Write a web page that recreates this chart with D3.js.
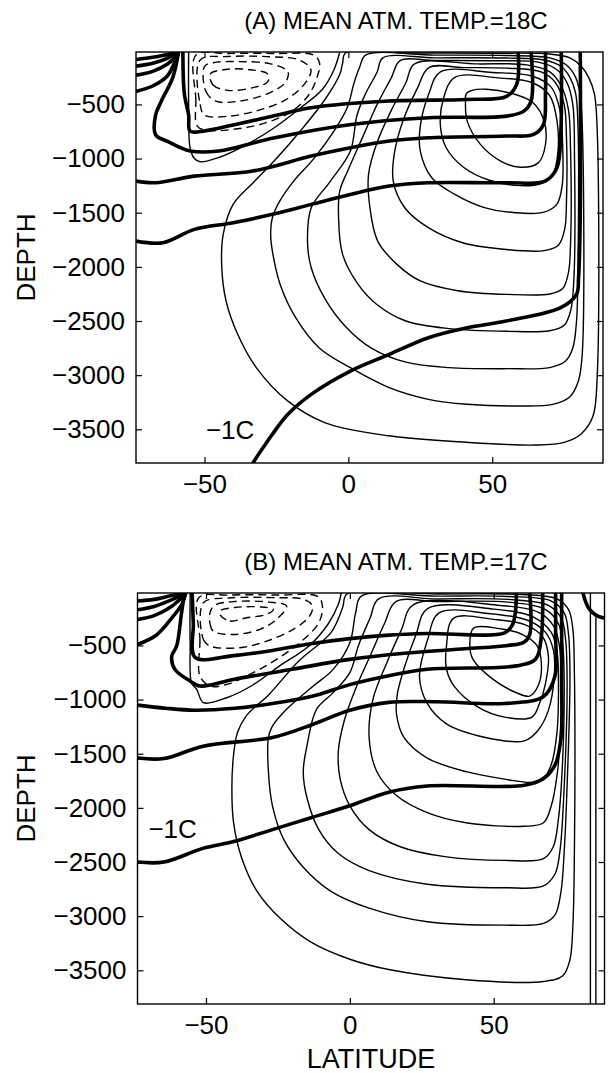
<!DOCTYPE html>
<html><head><meta charset="utf-8">
<script src="https://cdn.jsdelivr.net/npm/d3@7"></script>
<style>
body{margin:0;background:#fff;}
text{font-family:"Liberation Sans",Arial,Helvetica,sans-serif;fill:#000;}
</style></head>
<body><svg id="c" width="610" height="1073"></svg>
<script>
// ---------- axes ----------
const latDomain = [-73.8, 88.5];
const depthDomain = [-3811, -16];
const latTicks = [-50, 0, 50];
const depthTicks = [-3500, -3000, -2500, -2000, -1500, -1000, -500];
const titles = ["(A) MEAN ATM. TEMP.=18C", "(B) MEAN ATM. TEMP.=17C"];
const xLabel = "LATITUDE";
const yLabel = "DEPTH";

// ---------- panel A : streamfunction (thin, positive cell), [lat, depth] ----------
const psiA = [
 [[-1,-25],[-2,-120],[-3,-224],[-8,-450],[-16.7,-746],[-25,-1000],[-33,-1220],[-40,-1420],[-43.5,-1700],[-44,-2000],[-42.5,-2315],[-38.5,-2620],[-32,-2930],[-21,-3240],[-8,-3440],[14,-3560],[41,-3620],[65,-3645],[75,-3620],[81,-3540],[85,-3380],[86.5,-3000],[86.5,-750],[85.5,-400],[83.5,-250],[81,-150],[77,-70],[70,-35],[50,-27],[20,-25]],
 [[6,-45],[4,-150],[2,-300],[-0.4,-531],[-5,-746],[-12,-1000],[-19,-1208],[-24,-1400],[-26.4,-1546],[-27,-1700],[-26.4,-1854],[-23.7,-2162],[-18.3,-2469],[-10.2,-2746],[0.7,-2931],[14.2,-3115],[27.8,-3223],[41.3,-3269],[60,-3285],[71,-3270],[77,-3200],[80,-3050],[81.3,-2800],[81.3,-700],[80.5,-400],[79,-250],[76,-140],[70,-70],[55,-48],[30,-45]],
 [[12,-70],[10,-200],[6,-400],[3,-600],[0.7,-931],[-6.2,-1208],[-12.9,-1454],[-14.2,-1762],[-12.9,-2008],[-8,-2300],[-1,-2550],[8,-2750],[20,-2880],[35,-2930],[55,-2940],[70,-2930],[75.5,-2870],[78,-2750],[79.3,-2500],[79.8,-2000],[79.8,-700],[79,-400],[77,-250],[74,-150],[68,-90],[55,-72],[30,-70]],
 [[18,-95],[15,-250],[10,-500],[5,-800],[0,-1100],[-3,-1300],[-3.4,-1546],[-2,-1885],[3.4,-2162],[10,-2350],[20,-2500],[35,-2570],[55,-2595],[70,-2590],[75,-2540],[77.3,-2400],[78.4,-2100],[78.6,-1000],[78,-500],[76,-300],[72.5,-180],[66,-110],[50,-97],[30,-95]],
 [[23,-125],[20,-300],[15,-550],[10,-850],[7,-1150],[7.5,-1454],[10.2,-1762],[16.9,-1977],[25,-2130],[38,-2220],[55,-2254],[70,-2250],[74.5,-2200],[76.5,-2050],[77.2,-1800],[77.2,-900],[76.5,-550],[74,-330],[70,-200],[62,-135],[45,-126]],
 [[28,-160],[24,-350],[19,-650],[16,-950],[15.6,-1208],[19.6,-1454],[27.8,-1638],[40,-1780],[55,-1840],[68,-1850],[73,-1800],[75.2,-1650],[75.8,-1400],[75.8,-800],[75,-500],[72,-300],[67,-200],[55,-165],[40,-160]],
 [[32,-200],[28,-400],[25,-700],[25,-931],[29,-1177],[37,-1331],[47,-1450],[58,-1500],[68,-1495],[72.5,-1420],[74.3,-1250],[74.5,-900],[73.5,-550],[70.5,-340],[64,-240],[50,-205]],
 [[37,-250],[33,-450],[32,-700],[34,-900],[40,-1080],[49,-1200],[60,-1250],[67,-1230],[71,-1150],[72.8,-950],[72.5,-650],[70,-420],[64,-300],[52,-255]],
 [[41,-400],[40.7,-485],[41.3,-654],[45.9,-869],[52.9,-1023],[59.8,-1080],[66,-1040],[68.5,-870],[68,-650],[64,-480],[57,-400],[48,-360],[43,-370]]
];
const zeroA = [[-55.5,-16],[-55.5,-500],[-55,-900],[-53.5,-1000],[-51.5,-1030],[-45,-990],[-36,-880],[-26,-720],[-17,-540],[-9,-360],[-5,-180],[-3,-16]];
// negative cell (dashed, closed)
const negA = [
 [[-48,-220],[-47,-320],[-42,-370],[-34,-350],[-28,-290],[-28,-220],[-34,-180],[-42,-175]],
 [[-50,-150],[-49.5,-380],[-46,-470],[-38,-470],[-28,-400],[-22,-300],[-21,-200],[-27,-125],[-38,-105],[-47,-115]],
 [[-51.5,-90],[-51.5,-500],[-50,-600],[-42,-610],[-32,-560],[-22,-460],[-15.5,-320],[-13,-180],[-17,-90],[-27,-60],[-42,-58]],
 [[-53,-45],[-53,-450],[-52.5,-700],[-49,-740],[-40,-730],[-30,-680],[-20,-570],[-14,-420],[-11,-260],[-10,-120],[-12,-45],[-25,-30],[-42,-30]]
];
// temperature (thick)
const tempA = [
 [[-73.8,-85],[-68,-65],[-62,-35],[-59.5,-16]],
 [[-73.8,-147],[-68,-120],[-63,-75],[-59.5,-16]],
 [[-73.8,-230],[-68,-195],[-63,-130],[-60,-60],[-59,-16]],
 [[-73.8,-380],[-68,-330],[-63,-240],[-60.5,-120],[-59,-16]],
 [[-57.5,-16],[-57,-400],[-55.5,-600],[-55,-746],[-50,-745],[-40,-690],[-25,-600],[-13,-531],[14,-469],[41,-454],[55,-425],[58.5,-315],[59,-16]],
 [[-59,-16],[-61,-250],[-65,-470],[-67,-600],[-67,-780],[-63,-840],[-55,-930],[-45,-930],[-26,-810],[1,-685],[28,-623],[55,-608],[61,-562],[63.5,-470],[63.5,-16]],
 [[-73.8,-1208],[-67,-1223],[-53.5,-1162],[-33.2,-1115],[-12.9,-977],[0.7,-900],[14.2,-838],[27.8,-808],[54.9,-792],[64.4,-777],[67.8,-685],[68.5,-400],[68.5,-16]],
 [[-73.8,-1762],[-64.4,-1777],[-53.5,-1654],[-40,-1592],[-26.4,-1515],[-12.9,-1423],[0.7,-1331],[14.2,-1254],[27.8,-1223],[54.9,-1223],[68.4,-1208],[72.5,-1085],[73.8,-777],[74,-16]],
 [[80.6,-16],[80.6,-1500],[80,-2100],[79.3,-2254],[73.8,-2377],[54.9,-2500],[41.3,-2562],[27.8,-2654],[14.2,-2808],[0.7,-2962],[-12.9,-3177],[-21,-3361],[-26.4,-3546],[-33.2,-3811]]
];
const labelA = [{text:"\u22121C", lat:-49.5, depth:-3592}];

// ---------- panel B ----------
const psiB = [
 [[-1,-25],[-2.5,-150],[-6.5,-380],[-18,-650],[-28,-950],[-36,-1150],[-39,-1300],[-40.4,-1508],[-41,-1823],[-40.4,-2138],[-37.7,-2453],[-32.3,-2768],[-24.2,-3020],[-13.5,-3240],[0,-3398],[13.5,-3493],[40.4,-3587],[67.3,-3603],[74,-3550],[76.5,-3400],[77.5,-3090],[78,-2500],[78,-700],[77.5,-350],[76,-170],[72,-70],[60,-30],[30,-25]],
 [[4,-45],[2,-200],[0,-475],[-5.8,-721],[-12.7,-875],[-22,-1090],[-27,-1250],[-28.3,-1350],[-28.3,-1666],[-26.9,-1981],[-22.9,-2296],[-16.2,-2548],[-6.7,-2768],[6.7,-2926],[26.9,-3052],[53.8,-3083],[67.3,-3067],[71.3,-2989],[73.4,-2768],[74.5,-2400],[75.5,-1800],[76.5,-800],[76,-400],[74.5,-200],[70,-90],[55,-48],[30,-45]],
 [[10,-70],[7,-250],[3,-500],[0,-752],[-5.8,-936],[-11.6,-1090],[-14.8,-1414],[-16.2,-1666],[-14.8,-1918],[-10.8,-2201],[-4,-2422],[6.7,-2579],[26.9,-2705],[53.8,-2737],[67.3,-2721],[71.3,-2611],[73,-2400],[74.5,-1800],[75.5,-900],[75,-450],[73.5,-250],[69,-130],[55,-75],[30,-70]],
 [[16,-95],[12,-300],[7,-600],[2,-900],[-2,-1200],[-4,-1477],[-3.4,-1729],[0,-1981],[6.7,-2201],[17.5,-2359],[33.6,-2453],[53.8,-2485],[67.3,-2469],[70.7,-2359],[72.5,-2100],[73.7,-1700],[74.5,-900],[74,-500],[72.5,-300],[68,-170],[55,-100],[30,-95]],
 [[22,-125],[18,-350],[13,-650],[8,-1000],[6.7,-1350],[9.4,-1666],[16.2,-1886],[26.9,-2044],[40.4,-2138],[60.6,-2170],[67.3,-2138],[70,-1981],[72,-1700],[73.2,-1300],[73.5,-800],[72.8,-500],[71,-330],[66,-200],[52,-130]],
 [[27,-160],[23,-400],[19,-700],[16.5,-950],[16.2,-1130],[18.8,-1350],[26.9,-1540],[40.4,-1666],[55,-1740],[63,-1765],[67,-1740],[70,-1600],[72,-1300],[72.5,-900],[72,-560],[70,-380],[64,-240],[50,-165]],
 [[31,-200],[27,-450],[24.2,-784],[26.9,-1036],[33.6,-1225],[47.1,-1350],[60.6,-1382],[65.3,-1288],[69,-1100],[71,-800],[70.8,-550],[68,-380],[62,-270],[48,-205]],
 [[36,-250],[33.6,-500],[33.6,-720],[36.3,-878],[44.4,-1067],[53.8,-1162],[63.3,-1162],[65.9,-1036],[68,-850],[69,-600],[67,-420],[61,-310],[50,-260]],
 [[43,-340],[41.7,-506],[42.8,-629],[49.8,-814],[57.9,-937],[62.5,-968],[65.4,-875],[66.6,-691],[65,-500],[60,-400],[52,-345]]
];
const zeroB = [[-55.5,-16],[-55.5,-500],[-55,-850],[-53.2,-906],[-50.9,-1029],[-42.8,-983],[-34,-870],[-25,-700],[-14,-500],[-7.5,-300],[-4,-120],[-3,-16]];
const negB = [
 [[-45,-220],[-41.7,-275],[-35.9,-245],[-29,-214],[-26.6,-168],[-31,-145],[-40,-150],[-45,-180]],
 [[-48.6,-200],[-48.6,-300],[-47.5,-368],[-40.5,-399],[-31.3,-352],[-25.5,-260],[-22,-137],[-28,-100],[-40,-95],[-47,-130]],
 [[-50.9,-106],[-50.9,-445],[-48.6,-506],[-38.2,-521],[-28.9,-460],[-19.7,-352],[-14,-230],[-13,-137],[-16,-75],[-25,-60],[-42,-62]],
 [[-52.5,-60],[-52.1,-450],[-52.1,-783],[-48.6,-875],[-42.8,-860],[-33.6,-752],[-25.5,-629],[-17.4,-475],[-11,-300],[-9.5,-150],[-11,-50],[-25,-35],[-42,-35]]
];
const tempB = [
 [[-73.8,-90],[-68,-75],[-62,-40],[-57,-16]],
 [[-73.8,-170],[-68,-140],[-62,-80],[-57,-16]],
 [[-73.8,-260],[-68,-225],[-62,-140],[-58.5,-60],[-57,-16]],
 [[-73.8,-491],[-67.3,-406],[-61.9,-248],[-58.4,-120],[-57,-16]],
 [[-54.8,-16],[-54.4,-300],[-53.8,-610],[-40.4,-594],[-26.9,-547],[-13.5,-484],[0,-437],[13.5,-405],[26.9,-390],[53.8,-384],[56.5,-311],[57.5,-200],[57.9,-16]],
 [[-57.5,-16],[-58.5,-200],[-60.2,-506],[-61.9,-599],[-60.8,-721],[-56,-820],[-52.1,-875],[-40.5,-814],[-20,-720],[0,-629],[20,-570],[40,-531],[55,-500],[60.5,-470],[62.5,-400],[62.5,-16]],
 [[-73.8,-1051],[-64,-1080],[-53.8,-1098],[-40,-1080],[-26.9,-1036],[-13.5,-972],[0,-862],[13.5,-780],[26.9,-720],[57.9,-689],[64.6,-626],[66.6,-405],[67,-16]],
 [[-73.8,-1540],[-64.6,-1545],[-51,-1430],[-26.9,-1350],[-13,-1230],[0,-1099],[13.5,-1026],[30,-1020],[53.8,-1036],[67.3,-972],[71.3,-783],[71.5,-400],[71.5,-16]],
 [[-73.8,-2500],[-64.6,-2500],[-51.1,-2374],[-40.4,-2311],[-26.9,-2201],[-13.5,-2091],[0,-1981],[13.5,-1855],[26.9,-1798],[60.6,-1792],[67.3,-1729],[71.3,-1603],[73.4,-1351],[73.6,-800],[73.6,-16]],
 [[81,-16],[82,-100],[83.3,-168],[85.5,-220],[88.5,-250]]
];
const wallB = [
 [[83.6,-16],[83.6,-3811]],
 [[85.5,-240],[85.5,-3811]]
];
const labelB = [{text:"\u22121C", lat:-70, depth:-2280}];

// ---------- drawing ----------
const svg = d3.select("#c");
const tickFmt = d3.format("d");
const panels = [
 {title:titles[0], x0:136, x1:603, y0:52, y1:463, titleY:28.5, psi:psiA, zero:zeroA, neg:negA, temp:tempA, walls:[], labels:labelA, showX:false},
 {title:titles[1], x0:137.5, x1:604.5, y0:593, y1:1004, titleY:570, psi:psiB, zero:zeroB, neg:negB, temp:tempB, walls:wallB, labels:labelB, showX:true}
];

panels.forEach((p, i) => {
  const x = d3.scaleLinear().domain(latDomain).range([p.x0, p.x1]);
  const y = d3.scaleLinear().domain(depthDomain).range([p.y1, p.y0]);
  const g = svg.append("g");
  const cid = "clip" + i;
  g.append("clipPath").attr("id", cid).append("rect")
    .attr("x", p.x0).attr("y", p.y0).attr("width", p.x1 - p.x0).attr("height", p.y1 - p.y0);
  const plot = g.append("g").attr("clip-path", `url(#${cid})`);

  const open = d3.line().x(d => x(d[0])).y(d => y(d[1])).curve(d3.curveCatmullRom.alpha(0.5));
  const closed = d3.line().x(d => x(d[0])).y(d => y(d[1])).curve(d3.curveCatmullRomClosed.alpha(0.5));
  const straight = d3.line().x(d => x(d[0])).y(d => y(d[1]));

  plot.selectAll("path.psi").data(p.psi).join("path").attr("class","psi")
    .attr("d", closed).attr("fill","none").attr("stroke","#000").attr("stroke-width",1.4);
  plot.append("path").datum(p.zero).attr("d", open)
    .attr("fill","none").attr("stroke","#000").attr("stroke-width",1.4);
  plot.selectAll("path.neg").data(p.neg).join("path").attr("class","neg")
    .attr("d", closed).attr("fill","none").attr("stroke","#000").attr("stroke-width",1.4)
    .attr("stroke-dasharray","8,5");
  plot.selectAll("path.wall").data(p.walls).join("path").attr("class","wall")
    .attr("d", straight).attr("fill","none").attr("stroke","#000").attr("stroke-width",1.4);
  plot.selectAll("path.temp").data(p.temp).join("path").attr("class","temp")
    .attr("d", open).attr("fill","none").attr("stroke","#000").attr("stroke-width",3.6)
    .attr("stroke-linejoin","round");

  g.selectAll("text.lab").data(p.labels).join("text").attr("class","lab")
    .attr("x", d => x(d.lat)).attr("y", d => y(d.depth))
    .attr("font-size", 26).text(d => d.text);

  // axes
  const ax = (axis, tr) => {
    const a = g.append("g").attr("transform", tr).call(axis);
    a.select(".domain").remove();
    a.selectAll("line").attr("stroke","#000").attr("stroke-width",1.2);
    a.selectAll("text").attr("font-size", 26).attr("font-family", '"Liberation Sans",Arial,sans-serif').attr("fill","#000");
    return a;
  };
  ax(d3.axisLeft(y).tickValues(depthTicks).tickFormat(tickFmt).tickSizeInner(-6).tickSizeOuter(0).tickPadding(11), `translate(${p.x0},0)`);
  ax(d3.axisRight(y).tickValues(depthTicks).tickSizeInner(-6).tickSizeOuter(0).tickFormat(""), `translate(${p.x1},0)`);
  ax(d3.axisBottom(x).tickValues(latTicks).tickFormat(tickFmt).tickSizeInner(-6).tickSizeOuter(0).tickPadding(12), `translate(0,${p.y1})`);
  ax(d3.axisTop(x).tickValues(latTicks).tickSizeInner(-6).tickSizeOuter(0).tickFormat(""), `translate(0,${p.y0})`);

  g.append("rect").attr("x", p.x0).attr("y", p.y0).attr("width", p.x1 - p.x0).attr("height", p.y1 - p.y0)
    .attr("fill","none").attr("stroke","#000").attr("stroke-width",1.4);

  g.append("text").attr("x", 396).attr("y", p.titleY).attr("text-anchor","middle")
    .attr("font-size", 24).text(p.title);
  g.append("text").attr("transform", `translate(35,${(p.y0 + p.y1) / 2}) rotate(-90)`)
    .attr("text-anchor","middle").attr("font-size", 26).text(yLabel);
  if (p.showX) {
    g.append("text").attr("x", (p.x0 + p.x1) / 2).attr("y", 1068).attr("text-anchor","middle")
      .attr("font-size", 27).text(xLabel);
  }
});
</script></body></html>
